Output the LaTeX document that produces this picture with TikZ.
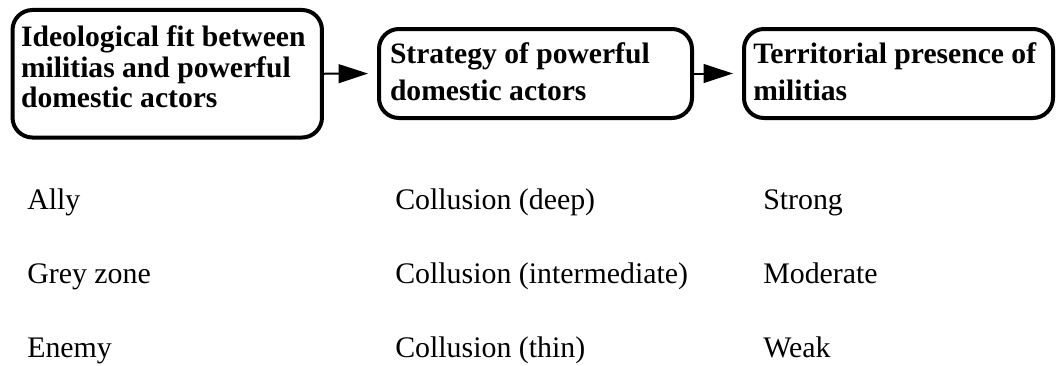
\documentclass[tikz,border=0pt]{standalone}
\usepackage{fontspec}
\setmainfont{Liberation Serif}
\usetikzlibrary{arrows.meta}
\begin{document}
\begin{tikzpicture}[x=0.75pt,y=-0.75pt,
  flowbox/.style={draw, line width=3pt, rounded corners=15pt, inner ysep=0pt, align=flush left,
    font=\bfseries\fontsize{22.2pt}{27.75pt}\selectfont},
  flowarrow/.style={line width=1.5pt, -{Triangle[length=22pt,width=14pt]}, shorten >=6.75pt},
  cell/.style={anchor=base west, inner sep=0pt, font=\fontsize{22.4pt}{26pt}\selectfont}]
\useasboundingbox (0,0) rectangle (1058,365);
\node[flowbox, minimum width=232.1pt, minimum height=95.6pt, inner xsep=6.4pt,
  text width=219.3pt, text height=27.75pt, text depth=67.9pt,
  font=\bfseries\fontsize{22.2pt}{22.75pt}\selectfont]
  (b1) at (167.25,73.75) {Ideological fit between\\militias and powerful\\domestic actors};
\node[flowbox, minimum width=234.75pt, minimum height=66.75pt, inner xsep=8.25pt,
  text width=218.25pt, text height=25.5pt, text depth=41.25pt]
  (b2) at (535.5,73.5) {Strategy of powerful\\domestic actors};
\node[flowbox, minimum width=231.75pt, minimum height=66.75pt, inner xsep=7pt,
  text width=217.75pt, text height=25.5pt, text depth=41.25pt]
  (b3) at (898.5,73.5) {Territorial presence of\\militias};
\draw[flowarrow] (b1.east) -- (b2.west);
\draw[flowarrow] (b2.east) -- (b3.west);
\node[cell] (a1) at (27,209) {Ally};
\node[cell] (a2) at (27,283) {Grey zone};
\node[cell] (a3) at (27,357) {Enemy};
\node[cell] (s1) at (395,209) {Collusion (deep)};
\node[cell] (s2) at (395,283) {Collusion (intermediate)};
\node[cell] (s3) at (395,357) {Collusion (thin)};
\node[cell] (p1) at (763,209) {Strong};
\node[cell] (p2) at (763,283) {Moderate};
\node[cell] (p3) at (763,357) {Weak};
\end{tikzpicture}
\end{document}
